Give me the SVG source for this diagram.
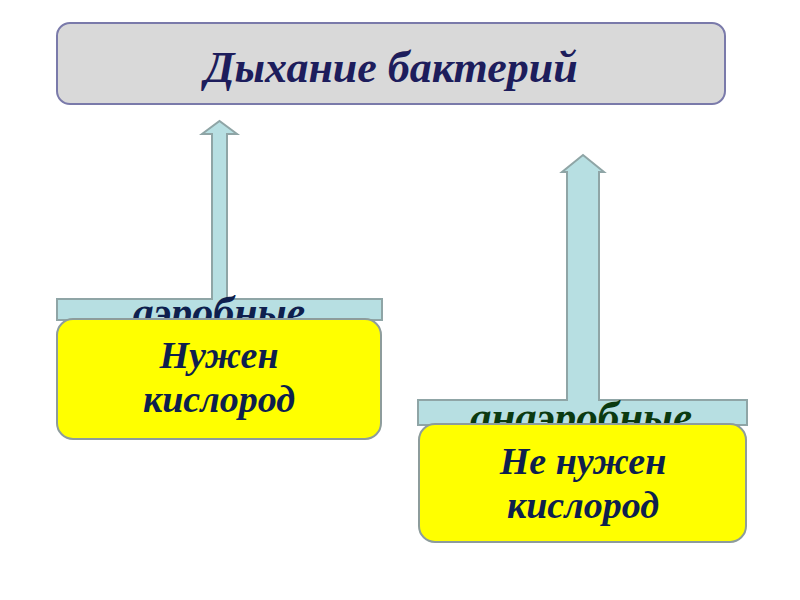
<svg xmlns="http://www.w3.org/2000/svg" width="800" height="600" viewBox="0 0 800 600">
<style>
.title{fill:#d9d9d9;stroke:#7a7aaa;stroke-width:2}
.arrow{fill:#b7dfe2;stroke:#8fa5a6;stroke-width:2}
.box{fill:#ffff00;stroke:#8d9c9c;stroke-width:2}
text{font-family:"Liberation Serif","Times New Roman",serif;font-weight:bold;font-style:italic;text-anchor:middle}
.t1{font-size:44px;fill:#1d1d5c}
.t2{font-size:38px;fill:#0e1f4e}
.lbl{font-size:42px;fill:#0e1f4e}
.lblg{font-size:43px;fill:#0b3a10}
</style>
<rect width="800" height="600" fill="#ffffff"/>
<g id="title-node">
<rect class="title" x="57" y="23" width="668" height="81" rx="13"/>
<text class="t1" x="391" y="82">Дыхание бактерий</text>
</g>
<g id="connectors">
<path class="arrow" d="M57,299 H212 V134 H202 L219.5,121 L237,134 H227 V299 H382 V320 H57 Z"/>
<text class="lbl" x="219" y="326">аэробные</text>
<path class="arrow" d="M418,400 H567 V172 H562 L583,155 L604,172 H599 V400 H747 V425 H418 Z"/>
<text class="lblg" x="581" y="431">анаэробные</text>
</g>
<g id="aerobic-node">
<rect class="box" x="57" y="319" width="324" height="120" rx="16"/>
<text class="t2" x="219" y="368">Нужен</text>
<text class="t2" x="219" y="412">кислород</text>
</g>
<g id="anaerobic-node">
<rect class="box" x="419" y="424" width="327" height="118" rx="16"/>
<text class="t2" x="583" y="474">Не нужен</text>
<text class="t2" x="583" y="518">кислород</text>
</g>
</svg>
